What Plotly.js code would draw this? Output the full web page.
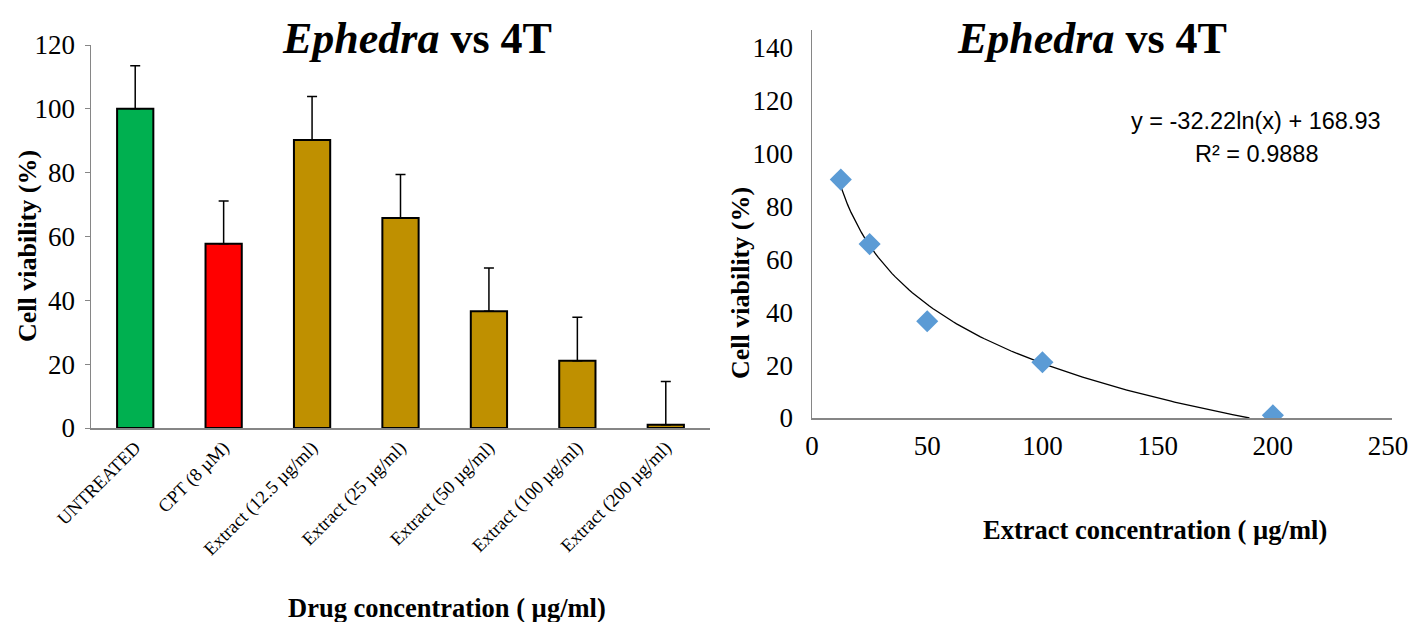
<!DOCTYPE html>
<html><head><meta charset="utf-8">
<script src="https://cdn.plot.ly/plotly-3.0.1.min.js"></script>
<style>html,body{margin:0;padding:0;background:#fff;}#chart{width:1414px;height:622px;}</style>
</head><body><div id="chart"></div>
<script>
// ---- data ----
const categories = ["UNTREATED", "CPT (8 µM)", "Extract (12.5 µg/ml)", "Extract (25 µg/ml)", "Extract (50 µg/ml)", "Extract (100 µg/ml)", "Extract (200 µg/ml)"];
const viability = [100, 57.7, 90.2, 65.8, 36.6, 21.1, 1.0];
const viabilityErr = [13.5, 13.4, 13.7, 13.6, 13.5, 13.6, 13.6];
const barColors = ["#00B050", "#FF0000", "#BF9000", "#BF9000", "#BF9000", "#BF9000", "#BF9000"];
const extractConc = [12.5, 25, 50, 100, 200];
const extractViability = [90.2, 65.8, 36.6, 21.1, 1.0];
const equationText = "y = -32.22ln(x) + 168.93";
const r2Text = "R² = 0.9888";

// logarithmic least-squares trendline from the points
const lx = extractConc.map(Math.log);
const mx = lx.reduce((a,b)=>a+b,0)/lx.length;
const my = extractViability.reduce((a,b)=>a+b,0)/extractViability.length;
let sxy=0, sxx=0;
for (let i=0;i<lx.length;i++){ sxy+=(lx[i]-mx)*(extractViability[i]-my); sxx+=(lx[i]-mx)**2; }
const slope = sxy/sxx, icpt = my - slope*mx;
const xEnd = Math.exp(-icpt/slope);
const fitX = [], fitY = [];
const nSteps = 120;
for (let i=0;i<=nSteps;i++){
  const x = extractConc[0] + (xEnd-extractConc[0])*i/nSteps;
  fitX.push(x); fitY.push(slope*Math.log(x)+icpt);
}

const W=1414, H=622;
const px = v => v/W, py = v => 1 - v/H;
const serif = "Liberation Serif, Times New Roman, serif";

const traces = [
  {type:"bar", x:categories, y:viability, xaxis:"x", yaxis:"y",
   marker:{color:barColors, line:{color:"#000", width:2}}, width:0.41,
   error_y:{type:"data", array:viabilityErr, symmetric:false, arrayminus:viabilityErr.map(()=>0), color:"#000", thickness:1.5, width:5},
   hoverinfo:"x+y"},
  {type:"scatter", mode:"lines", x:fitX, y:fitY, xaxis:"x2", yaxis:"y2",
   line:{color:"#000", width:1.3}, hoverinfo:"skip"},
  {type:"scatter", mode:"markers", x:extractConc, y:extractViability, xaxis:"x2", yaxis:"y2",
   marker:{symbol:"diamond", size:17, color:"#5B9BD5"}}
];

const tickFont = {family:serif, size:27, color:"#000"};
const layout = {
  width:W, height:H, margin:{l:0,r:0,t:0,b:0}, showlegend:false,
  paper_bgcolor:"#fff", plot_bgcolor:"#fff",
  xaxis:{domain:[px(91),px(710)], anchor:"y", showgrid:false, zeroline:false,
         showline:true, linecolor:"#868686", linewidth:1.5, ticks:"",
         tickangle:-45, tickfont:{family:serif, size:18.5, color:"#000"}},
  yaxis:{domain:[py(428),py(45)], anchor:"x", range:[0,120], dtick:20, showgrid:false, zeroline:false,
         showline:true, linecolor:"#868686", linewidth:1.5, ticks:"outside", ticklen:5, tickcolor:"#868686",
         ticklabelstandoff:4, tickfont:tickFont},
  xaxis2:{domain:[px(812),px(1392)], anchor:"y2", range:[0,251.7], dtick:50, showgrid:false, zeroline:false,
         showline:true, linecolor:"#868686", linewidth:1.5, ticks:"", ticklabelstandoff:3, tickfont:tickFont},
  yaxis2:{domain:[py(418),py(30)], anchor:"x2", range:[0,146.8], dtick:20, showgrid:false, zeroline:false,
         showline:true, linecolor:"#868686", linewidth:1.5, ticks:"", ticklabelstandoff:12, tickfont:tickFont},
  annotations:[
    {xref:"paper", yref:"paper", x:px(417), y:py(38), text:"<b><i>Ephedra</i> vs 4T</b>", showarrow:false,
     font:{family:serif, size:44, color:"#000"}, xanchor:"center", yanchor:"middle"},
    {xref:"paper", yref:"paper", x:px(1092), y:py(38), text:"<b><i>Ephedra</i> vs 4T</b>", showarrow:false,
     font:{family:serif, size:44, color:"#000"}, xanchor:"center", yanchor:"middle"},
    {xref:"paper", yref:"paper", x:px(27), y:py(246), text:"<b>Cell viability (%)</b>", textangle:-90, showarrow:false,
     font:{family:serif, size:26, color:"#000"}, xanchor:"center", yanchor:"middle"},
    {xref:"paper", yref:"paper", x:px(740), y:py(283), text:"<b>Cell viability (%)</b>", textangle:-90, showarrow:false,
     font:{family:serif, size:26, color:"#000"}, xanchor:"center", yanchor:"middle"},
    {xref:"paper", yref:"paper", x:px(447), y:py(608), text:"<b>Drug concentration ( µg/ml)</b>", showarrow:false,
     font:{family:serif, size:26.5, color:"#000"}, xanchor:"center", yanchor:"middle"},
    {xref:"paper", yref:"paper", x:px(1155), y:py(530), text:"<b>Extract concentration ( µg/ml)</b>", showarrow:false,
     font:{family:serif, size:26.5, color:"#000"}, xanchor:"center", yanchor:"middle"},
    {xref:"paper", yref:"paper", x:px(1256), y:py(121), text:equationText, showarrow:false,
     font:{family:"Liberation Sans Narrow, Arial Narrow, sans-serif", size:23.5, color:"#000"}, xanchor:"center", yanchor:"middle"},
    {xref:"paper", yref:"paper", x:px(1256), y:py(154), text:r2Text, showarrow:false,
     font:{family:"Liberation Sans Narrow, Arial Narrow, sans-serif", size:23.5, color:"#000"}, xanchor:"center", yanchor:"middle"}
  ]
};
Plotly.newPlot("chart", traces, layout, {displayModeBar:false, staticPlot:true});
</script></body></html>
